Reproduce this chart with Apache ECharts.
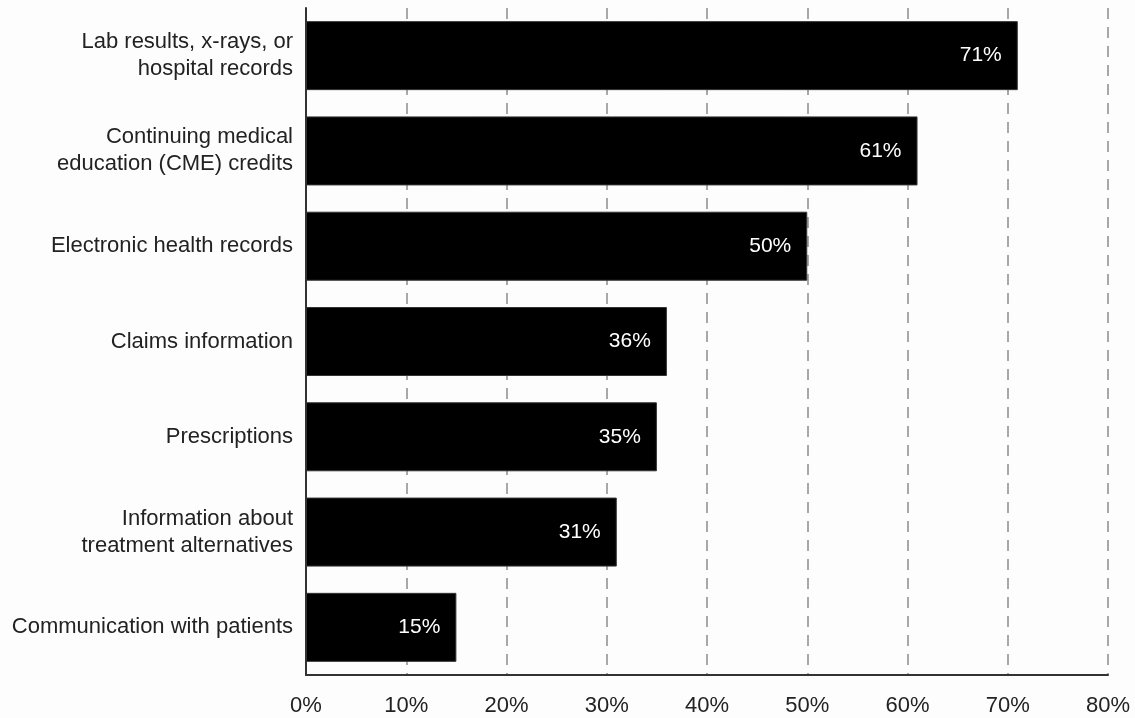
<!DOCTYPE html>
<html lang="en">
<head>
	<meta charset="utf-8">
	<title>Bar chart</title>
	<script src="https://cdn.jsdelivr.net/npm/echarts@6/dist/echarts.min.js"></script>
	<style>
		html, body { margin: 0; padding: 0; background: #fdfdfd; }
		#main { width: 1135px; height: 718px; }
	</style>
</head>
<body>
	<div id="main"></div>
	<script>
		// categories, top to bottom
		const categories = [
			'Lab results, x-rays, or\nhospital records',
			'Continuing medical\neducation (CME) credits',
			'Electronic health records',
			'Claims information',
			'Prescriptions',
			'Information about\ntreatment alternatives',
			'Communication with patients'
		];
		const values = [71, 61, 50, 36, 35, 31, 15];
		const xTicks = [0, 10, 20, 30, 40, 50, 60, 70, 80];

		let chart = echarts.init(document.getElementById('main'), null, { renderer: 'canvas' });
		let font = 'Liberation Sans, Arial, sans-serif';

		let option = {
			backgroundColor: '#fdfdfd',
			animation: false,
			grid: { left: 306, right: 27, top: 8, bottom: 43 },
			xAxis: {
				type: 'value',
				min: xTicks[0],
				max: xTicks[xTicks.length - 1],
				interval: 10,
				axisLine: { show: true, lineStyle: { color: '#333', width: 2 } },
				axisTick: { show: false },
				axisLabel: {
					formatter: '{value}%',
					color: '#222',
					fontSize: 22,
					fontFamily: font,
					margin: 20
				},
				splitLine: {
					show: true,
					lineStyle: { color: '#8c8c8c', width: 1.5, type: [11, 8] }
				}
			},
			yAxis: {
				type: 'category',
				data: categories,
				inverse: true,
				axisLine: { show: true, lineStyle: { color: '#333', width: 2 } },
				axisTick: { show: false },
				axisLabel: {
					color: '#222',
					fontSize: 22,
					fontFamily: font,
					lineHeight: 27,
					margin: 13,
					align: 'right'
				}
			},
			series: [{
				type: 'bar',
				data: values,
				barWidth: 69,
				itemStyle: { color: '#000', borderColor: '#333', borderWidth: 1 },
				label: {
					show: true,
					position: 'insideRight',
					distance: 16,
					formatter: '{c}%',
					color: '#fff',
					fontSize: 21,
					fontFamily: font
				}
			}]
		};
		chart.setOption(option);
	</script>
</body>
</html>
